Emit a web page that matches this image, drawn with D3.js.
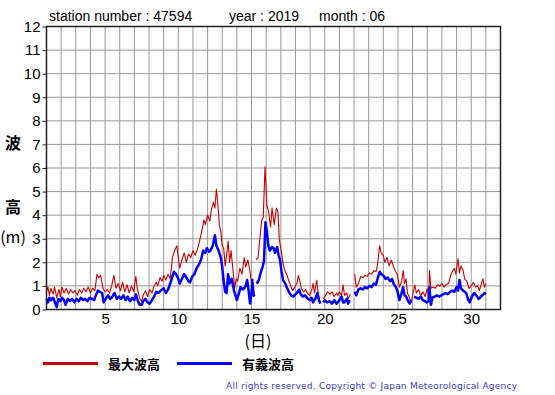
<!DOCTYPE html>
<html><head><meta charset="utf-8">
<script src="https://cdn.jsdelivr.net/npm/d3@7"></script>
<style>body{margin:0;background:#fff}svg{display:block}</style>
</head><body>
<svg id="c" width="555" height="395"></svg>
<script>
const yTicks = [0,1,2,3,4,5,6,7,8,9,10,11,12];
const xTicks = [5,10,15,20,25,30];
const seriesNames = ["最大波高","有義波高"];
const titleParts = ["station number : 47594","year : 2019","month : 06"];

const maxDays = [1.00,1.10,1.20,1.30,1.45,1.55,1.70,1.85,1.95,2.05,2.20,2.35,2.50,2.65,2.80,2.95,3.10,3.25,3.40,3.55,3.70,3.85,4.00,4.15,4.30,4.45,4.55,4.70,4.85,5.00,5.15,5.30,5.45,5.60,5.75,5.90,6.05,6.20,6.35,6.50,6.65,6.80,6.95,7.10,7.20,7.35,7.50,7.60,7.75,7.90,8.05,8.20,8.35,8.50,8.60,8.75,8.90,9.00,9.15,9.30,9.45,9.60,9.75,9.90,10.00,10.10,10.25,10.40,10.55,10.70,10.85,11.00,11.15,11.30,11.45,11.60,11.75,11.85,12.00,12.15,12.25,12.40,12.50,12.60,12.70,12.80,12.90,13.00,13.10,13.20,13.30,13.40,13.50,13.60,13.70,13.85,13.95,14.05,14.20,14.35,14.50,14.60,14.75,14.90,15.00,15.10,15.20,15.30,15.45,15.55,15.70,15.80,15.92,16.05,16.15,16.30,16.40,16.55,16.70,16.80,16.90,17.05,17.15,17.30,17.40,17.55,17.65,17.80,17.95,18.10,18.20,18.30,18.40,18.55,18.70,18.80,18.95,19.10,19.20,19.30,19.45,19.55,19.65,19.78,19.90,20.05,20.20,20.35,20.50,20.65,20.80,20.90,21.00,21.15,21.25,21.35,21.50,21.60,21.75,21.90,22.05,22.15,22.30,22.45,22.60,22.75,22.90,23.05,23.20,23.35,23.50,23.60,23.75,23.85,24.00,24.10,24.25,24.40,24.55,24.70,24.85,24.95,25.10,25.25,25.35,25.45,25.55,25.65,25.75,25.90,26.00,26.15,26.25,26.40,26.55,26.70,26.85,27.00,27.10,27.15,27.25,27.40,27.55,27.70,27.85,28.00,28.15,28.30,28.45,28.60,28.70,28.85,28.95,29.10,29.20,29.30,29.45,29.55,29.70,29.85,30.00,30.15,30.30,30.45,30.55,30.70,30.80,30.90,31.00];
const maxValues = [0.75,0.95,0.6,0.9,0.65,0.95,0.5,0.85,0.55,0.95,0.7,0.9,0.65,0.85,0.7,0.8,0.6,0.85,0.7,0.9,0.75,0.95,0.7,0.9,0.8,1.5,1.35,1.45,0.9,0.75,0.85,0.7,1.0,1.45,0.9,1.1,0.8,1.15,0.75,1.05,0.7,1.0,0.75,1.4,0.9,0.5,0.35,0.6,0.8,0.55,0.85,0.7,1.0,1.15,1.0,1.35,1.2,1.45,1.25,1.5,1.3,2.2,2.5,2.7,2.2,1.75,2.1,2.4,2.0,2.35,2.2,2.5,2.3,2.55,2.9,3.3,3.8,3.6,4.0,3.75,4.2,4.55,4.3,5.1,4.5,3.6,3.3,2.7,2.6,1.85,2.3,2.9,2.0,2.5,1.9,0.9,1.3,1.2,1.75,1.5,2.2,1.8,2.1,1.6,1.1,1.3,null,2.1,2.2,2.9,3.8,3.9,6.05,4.4,4.2,3.5,4.3,3.6,4.3,4.15,2.95,2.4,1.95,1.6,1.5,1.2,1.05,0.8,0.95,1.1,1.45,1.2,0.9,0.75,0.85,0.7,0.6,0.8,1.1,0.7,1.25,0.7,0.4,null,0.45,0.6,0.75,0.65,0.75,0.55,0.7,0.6,0.75,0.6,1.05,0.6,0.7,0.45,0.65,null,1.5,0.95,1.1,1.4,1.35,1.45,1.4,1.55,1.5,1.65,1.6,1.9,2.7,2.4,2.3,2.0,2.2,1.85,2.1,1.8,1.6,1.5,0.95,1.2,1.65,1.1,1.3,0.7,0.55,0.3,0.6,1.05,0.7,0.85,0.6,0.75,0.55,0.9,0.45,1.65,0.9,0.95,0.9,1.05,1.0,1.1,0.95,1.05,1.1,1.45,1.6,1.75,1.5,2.15,1.55,1.85,1.65,1.3,1.2,0.9,1.0,1.15,0.95,1.0,0.8,1.1,1.3,0.95,1.1];

const sigDays = [1.00,1.10,1.20,1.30,1.45,1.55,1.70,1.80,1.95,2.05,2.20,2.30,2.45,2.60,2.75,2.90,3.05,3.20,3.35,3.50,3.65,3.80,3.95,4.10,4.25,4.40,4.50,4.65,4.80,4.90,5.05,5.20,5.35,5.50,5.65,5.80,5.95,6.10,6.25,6.40,6.55,6.70,6.85,7.00,7.10,7.25,7.35,7.50,7.60,7.75,7.90,8.05,8.20,8.35,8.50,8.65,8.80,9.00,9.15,9.30,9.45,9.60,9.70,9.85,10.00,10.10,10.25,10.40,10.55,10.70,10.80,10.95,11.10,11.25,11.40,11.55,11.70,11.85,11.95,12.10,12.20,12.35,12.50,12.60,12.75,12.90,13.00,13.10,13.20,13.30,13.40,13.50,13.65,13.80,13.90,14.00,14.15,14.25,14.40,14.50,14.60,14.70,14.80,14.90,15.00,15.05,15.15,15.20,15.28,15.35,15.50,15.60,15.75,15.85,15.95,16.05,16.15,16.25,16.40,16.50,16.60,16.75,16.85,16.95,17.05,17.15,17.30,17.40,17.55,17.70,17.85,18.00,18.10,18.25,18.35,18.50,18.65,18.85,19.00,19.10,19.20,19.35,19.50,19.60,19.70,19.80,19.90,20.00,20.15,20.35,20.50,20.65,20.80,20.95,21.15,21.25,21.35,21.50,21.60,21.70,21.90,22.05,22.15,22.30,22.45,22.60,22.75,22.90,23.05,23.20,23.35,23.50,23.60,23.75,23.85,24.00,24.15,24.30,24.45,24.60,24.70,24.85,24.95,25.10,25.25,25.35,25.45,25.55,25.70,25.80,25.90,26.00,26.10,26.25,26.40,26.55,26.70,26.85,26.95,27.10,27.15,27.25,27.35,27.50,27.65,27.80,27.95,28.10,28.25,28.40,28.55,28.70,28.85,29.00,29.10,29.20,29.30,29.45,29.55,29.65,29.80,29.90,30.05,30.20,30.35,30.50,30.60,30.75,30.90,31.00];
const sigValues = [0.45,0.3,0.5,0.4,0.5,0.35,0.1,0.45,0.35,0.5,0.4,0.2,0.45,0.35,0.45,0.3,0.45,0.35,0.5,0.4,0.45,0.35,0.5,0.45,0.4,0.65,0.8,0.75,0.7,0.3,0.45,0.6,0.45,0.55,0.7,0.45,0.55,0.45,0.6,0.4,0.55,0.35,0.5,0.4,0.65,0.35,0.2,0.2,0.35,0.45,0.3,0.25,0.4,0.55,0.75,0.7,0.8,0.9,0.7,0.85,1.1,1.4,1.6,1.5,1.3,1.1,1.3,1.5,1.35,1.2,1.15,1.4,1.5,1.75,1.9,2.1,2.5,2.4,2.6,2.45,2.5,2.7,3.15,2.7,2.5,2.2,1.8,1.2,0.75,0.7,1.5,1.1,1.3,0.8,0.6,0.4,0.7,0.95,0.85,0.9,1.0,1.25,0.8,0.25,0.7,1.25,0.6,0.55,null,1.1,1.25,1.5,1.8,2.05,3.7,3.3,2.7,2.5,2.65,2.6,2.4,2.65,2.3,2.1,1.6,1.25,1.1,0.95,0.75,0.6,0.55,0.65,0.7,0.85,0.65,0.55,0.6,0.45,0.4,0.5,0.3,0.45,0.7,0.4,0.25,null,0.3,0.4,0.3,0.35,0.25,0.4,0.25,0.35,0.55,0.3,0.3,0.45,0.25,0.4,null,0.75,0.6,0.85,0.9,0.85,0.95,0.9,1.0,0.95,1.1,1.05,1.3,1.6,1.5,1.45,1.3,1.35,1.2,1.3,1.1,0.95,0.8,0.4,0.7,0.95,0.6,0.55,0.35,0.25,0.4,null,0.55,0.5,0.45,0.55,0.4,0.35,0.3,0.35,0.95,0.2,0.5,0.55,0.6,0.55,0.6,0.65,0.7,0.65,0.75,0.8,0.75,0.95,0.8,1.25,0.9,0.8,0.75,0.7,0.4,0.3,0.55,0.7,0.6,0.45,0.5,0.6,0.7,0.65];

const svg = d3.select("#c");
const pLeft = 46.5, pRight = 500.5, pTop = 26.5, pBottom = 309.5;
const x = d3.scaleLinear().domain([1,32]).range([pLeft,pRight]);
const y = d3.scaleLinear().domain([0,12]).range([pBottom,pTop]);
const FONT = "'Liberation Sans', Arial, sans-serif";
const CJK = "'Noto Sans CJK JP', sans-serif";

// grid
const g = svg.append("g");
g.selectAll("line.v").data(d3.range(2,32)).join("line")
  .attr("x1", d=>x(d)).attr("x2", d=>x(d)).attr("y1", pTop).attr("y2", pBottom)
  .attr("stroke", "#999").attr("stroke-width", 1);
g.selectAll("line.h").data(yTicks.slice(1,-1)).join("line")
  .attr("x1", pLeft).attr("x2", pRight).attr("y1", d=>y(d)).attr("y2", d=>y(d))
  .attr("stroke", "#999").attr("stroke-width", 1);

// lines
function draw(days, vals, color, w){
  const pts = days.map((d,i)=>({d, v: vals[i]}));
  const line = d3.line().defined(p=>p.v!=null).x(p=>x(p.d)).y(p=>y(p.v));
  svg.append("path").datum(pts).attr("d", line).attr("fill","none")
    .attr("stroke", color).attr("stroke-width", w).attr("stroke-linejoin","round");
}
draw(maxDays, maxValues, "#cc0000", 1.1);
draw(sigDays, sigValues, "#0000ff", 2.5);

// frame
svg.append("rect").attr("x", pLeft).attr("y", pTop).attr("width", pRight-pLeft).attr("height", pBottom-pTop)
  .attr("fill","none").attr("stroke","#222").attr("stroke-width",1.5);

// y axis
const ya = d3.axisLeft(y).tickValues(yTicks).tickSize(4).tickPadding(2).tickFormat(d3.format("d"));
svg.append("g").attr("transform", `translate(${pLeft},0)`).call(ya)
  .call(s=>s.select(".domain").remove())
  .call(s=>s.selectAll("line").attr("stroke","#222"))
  .call(s=>s.selectAll("text").attr("font-family", FONT).attr("font-size", 15).attr("fill","#000"));

// x axis
const xa = d3.axisBottom(x).tickValues(xTicks).tickSize(0).tickPadding(4).tickFormat(d3.format("d"));
svg.append("g").attr("transform", `translate(0,${pBottom})`).call(xa)
  .call(s=>s.select(".domain").remove())
  .call(s=>s.selectAll("text").attr("font-family", FONT).attr("font-size", 15).attr("fill","#000"));

// title
const tx = [49, 229, 319];
titleParts.forEach((t,i)=>svg.append("text").attr("x", tx[i]).attr("y", 21)
  .attr("font-family", FONT).attr("font-size", 14).text(t));

// axis titles
svg.append("text").attr("x", 13).attr("y", 149).attr("text-anchor","middle")
  .attr("font-family", CJK).attr("font-size", 16).attr("font-weight","bold").text("波");
svg.append("text").attr("x", 13).attr("y", 213).attr("text-anchor","middle")
  .attr("font-family", CJK).attr("font-size", 16).attr("font-weight","bold").text("高");
svg.append("text").attr("x", 13).attr("y", 243).attr("text-anchor","middle")
  .attr("font-family", CJK).attr("font-size", 16).text("(m)");
svg.append("text").attr("x", 258).attr("y", 347).attr("text-anchor","middle")
  .attr("font-family", CJK).attr("font-size", 16).text("(日)");

// legend
const legColors = ["#cc0000","#0000ff"];
const legX = [43, 177];
seriesNames.forEach((n,i)=>{
  svg.append("line").attr("x1", legX[i]).attr("x2", legX[i]+55).attr("y1", 363.5).attr("y2", 363.5)
    .attr("stroke", legColors[i]).attr("stroke-width", 3);
  svg.append("text").attr("x", legX[i]+65).attr("y", 368.5)
    .attr("font-family", CJK).attr("font-size", 13).attr("font-weight","bold").text(n);
});

// copyright
svg.append("text").attr("x", 226).attr("y", 388.5)
  .attr("font-family", "'DejaVu Sans', sans-serif").attr("font-size", 9).attr("fill", "#3b3bd9")
  .attr("textLength", 291).attr("lengthAdjust","spacing")
  .text("All rights reserved. Copyright © Japan Meteorological Agency");
</script>
</body></html>
